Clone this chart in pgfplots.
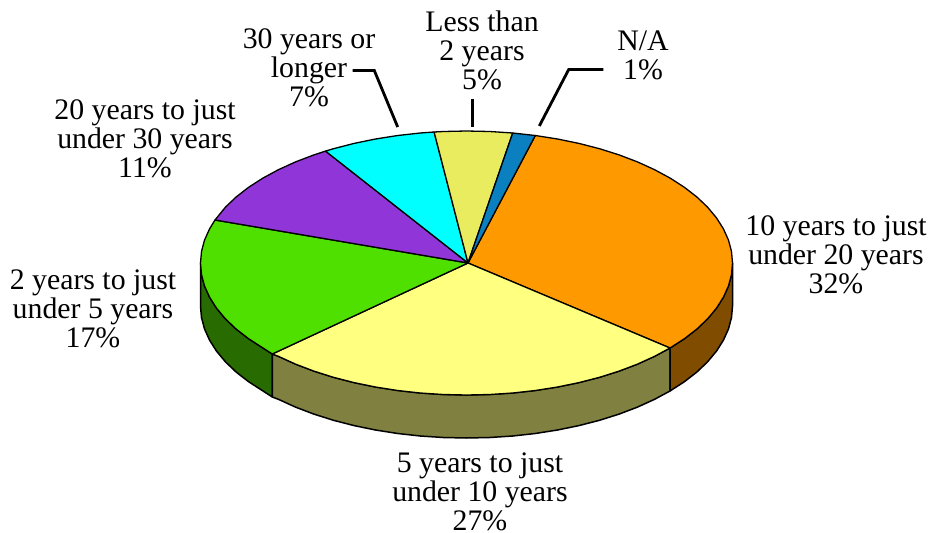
\documentclass[border=0pt]{standalone}
\usepackage{pgfplots}
\pgfplotsset{compat=1.18}
\usepackage{fontspec}
\setmainfont{Liberation Serif}
\definecolor{cOrange}{HTML}{FF9900}
\definecolor{cYellow}{HTML}{FFFF80}
\definecolor{cGreen}{HTML}{50E000}
\definecolor{cPurple}{HTML}{9035D8}
\definecolor{cCyan}{HTML}{00FFFF}
\definecolor{cPale}{HTML}{E9EC5F}
\definecolor{cBlue}{HTML}{0A80C0}
\definecolor{dOrange}{HTML}{804D00}
\definecolor{dYellow}{HTML}{808040}
\definecolor{dGreen}{HTML}{286B00}
\begin{document}
\begin{tikzpicture}[x=1pt,y=1pt]
\begin{axis}[
  scale only axis, width=930pt, height=533pt,
  xmin=1.5, xmax=931.5, ymin=0, ymax=533, y dir=reverse,
  hide axis, clip=false,
  every axis plot/.append style={line join=round, mark=none},
]
% sides
\addplot[fill=dGreen,draw=black,line width=1.5pt] coordinates {
(202,263)(203,274.5)(206,285.9)(211.1,297.2)(218,308.1)(226.9,318.8)(237.6,329)(250.1,338.7)(264.2,347.8)(273.8,354)
(273.8,397)(264.2,390.8)(250.1,381.7)(237.6,372)(226.9,361.8)(218,351.1)(211.1,340.2)(206,328.9)(203,317.5)(202,306)} -- cycle;
\addplot[fill=dYellow,draw=black,line width=1.5pt] coordinates {
(273.8,354)(279.9,356.3)(297,364.1)(315.4,371.1)(335,377.3)(355.6,382.6)(377,387)(399.2,390.5)(421.8,393)(444.8,394.5)(468,395)(491.2,394.5)(514.2,393)(536.8,390.5)(559,387)(580.4,382.6)(601,377.3)(620.6,371.1)(639,364.1)(656.1,356.3)(671.5,348)
(671.5,391)(656.1,399.3)(639,407.1)(620.6,414.1)(601,420.3)(580.4,425.6)(559,430)(536.8,433.5)(514.2,436)(491.2,437.5)(468,438)(444.8,437.5)(421.8,436)(399.2,433.5)(377,430)(355.6,425.6)(335,420.3)(315.4,414.1)(297,407.1)(279.9,399.3)(273.8,397)} -- cycle;
\addplot[fill=dOrange,draw=black,line width=1.5pt] coordinates {
(671.5,348)(685.9,338.7)(698.4,329)(709.1,318.8)(718,308.1)(724.9,297.2)(730,285.9)(733,274.5)(734,263)
(734,306)(733,317.5)(730,328.9)(724.9,340.2)(718,351.1)(709.1,361.8)(698.4,372)(685.9,381.7)(671.5,391)} -- cycle;
% top sectors
\addplot[fill=cOrange,draw=black,line width=1.3pt] coordinates {
(469.5,263)(536.8,135.5)(559,139)(580.4,143.4)(601,148.7)(620.6,154.9)(639,161.9)(656.1,169.7)(671.8,178.2)(685.9,187.3)(698.4,197)(709.1,207.2)(718,217.9)(724.9,228.8)(730,240.1)(733,251.5)(734,263)(733,274.5)(730,285.9)(724.9,297.2)(718,308.1)(709.1,318.8)(698.4,329)(685.9,338.7)(671.5,348)} -- cycle;
\addplot[fill=cYellow,draw=black,line width=1.3pt] coordinates {
(469.5,263)(671.5,348)(656.1,356.3)(639,364.1)(620.6,371.1)(601,377.3)(580.4,382.6)(559,387)(536.8,390.5)(514.2,393)(491.2,394.5)(468,395)(444.8,394.5)(421.8,393)(399.2,390.5)(377,387)(355.6,382.6)(335,377.3)(315.4,371.1)(297,364.1)(279.9,356.3)(273.8,354)} -- cycle;
\addplot[fill=cGreen,draw=black,line width=1.3pt] coordinates {
(469.5,263)(273.8,354)(264.2,347.8)(250.1,338.7)(237.6,329)(226.9,318.8)(218,308.1)(211.1,297.2)(206,285.9)(203,274.5)(202,263)(203,251.5)(206,240.1)(211.1,228.8)(216.5,220)} -- cycle;
\addplot[fill=cPurple,draw=black,line width=1.3pt] coordinates {
(469.5,263)(216.5,220)(226.9,207.2)(237.6,197)(250.1,187.3)(264.2,178.2)(279.9,169.7)(297,161.9)(315.4,154.9)(327,151.1)} -- cycle;
\addplot[fill=cCyan,draw=black,line width=1.3pt] coordinates {
(469.5,263)(327,151.1)(335,148.7)(355.6,143.4)(377,139)(399.2,135.5)(421.8,133)(435.6,132)} -- cycle;
\addplot[fill=cPale,draw=black,line width=1.3pt] coordinates {
(469.5,263)(435.6,132)(444.8,131.5)(468,131)(491.2,131.5)(514.2,133)} -- cycle;
\addplot[fill=cBlue,draw=black,line width=1.3pt] coordinates {
(469.5,263)(514.2,133)(536.8,135.5)} -- cycle;
% leaders
\addplot[black,line width=2.8pt,line join=miter] coordinates {(354.2,70.5)(375.8,70.5)(399.2,127)};
\addplot[black,line width=2.8pt] coordinates {(474.2,99.3)(474.2,127.3)};
\addplot[black,line width=2.8pt,line join=miter] coordinates {(604.8,69.5)(570.2,69.5)(540.8,126)};
% labels
\tikzset{lab/.style={align=center,inner sep=0pt,font=\fontsize{29.8}{29}\selectfont}}
\node[lab] at (axis cs:483.5,50) {Less than\\2 years\\5\%};
\node[lab] at (axis cs:644.5,55) {N/A\\1\%};
\node[lab] at (axis cs:310.5,68) {30 years or\\longer\\7\%};
\node[lab] at (axis cs:146.5,139) {20 years to just\\under 30 years\\11\%};
\node[lab] at (axis cs:94.5,309) {2 years to just\\under 5 years\\17\%};
\node[lab] at (axis cs:837.5,255) {10 years to just\\under 20 years\\32\%};
\node[lab] at (axis cs:481.5,491.5) {5 years to just\\under 10 years\\27\%};
\draw[draw=none] (rel axis cs:0,0) rectangle (rel axis cs:1,1);
\end{axis}
\end{tikzpicture}
\end{document}
